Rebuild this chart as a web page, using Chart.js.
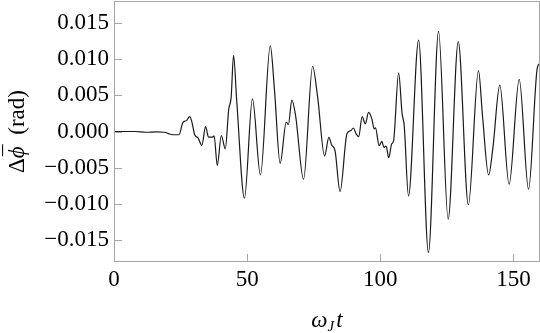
<!DOCTYPE html>
<html lang="en">
<head>
  <meta charset="UTF-8" />
  <title>Phase difference</title>
  <script src="https://cdn.jsdelivr.net/npm/chart.js"></script>
  <style>
    html, body { margin: 0; padding: 0; background: #fff; }
    #wrap { width: 540px; height: 333px; }
  </style>
</head>
<body>
<div id="wrap"><canvas id="phaseChart" width="540" height="333"></canvas></div>
<script>
// omega_J t
const tValues = [
  0, 8, 12, 16, 19, 20.5, 22, 24.4, 25.9, 27.2, 28.4, 29.2, 30.3, 31.5, 33.0, 34.4,
  35.5, 37.0, 37.6, 38.8, 40.3, 41.8, 43.1, 44.0, 44.9, 46.1, 49.0, 52.0, 55.0, 58.7,
  60.3, 62.4, 64.7, 65.5, 66.8, 68.2, 71.2, 74.6, 76.5, 79.1, 80.7, 81.8, 83.0, 84.9,
  87.5, 89.0, 89.9, 90.9, 91.9, 93.2, 94.4, 95.6, 96.9, 97.7, 98.2, 99.6, 100.6, 101.4,
  102.2, 103.2, 104.3, 105.0, 106.9, 108.2, 109.0, 110.6, 114.4, 118.1, 121.9, 125.5,
  129.3, 133.1, 136.9, 138.4, 140.7, 142.3, 144.9, 148.4, 152.2, 155.7, 159.0, 160
];
// delta phi-bar (rad)
const phiValues = [
  0, 0, -0.0001, -0.00005, -0.0001, -0.0003, -0.00045, -0.00045, 0.00125, 0.0015, 0.00205, 0.0014,
  -0.00045, -0.00085, -0.0019, 0.00068, -0.00078, -0.00078, -0.0006, -0.0047, -0.00055, -0.0024,
  0.0031, 0.0047, 0.0105, 0.0042, -0.0092, 0.0045, -0.0060, 0.0118, 0.0056, -0.0044, 0.0013,
  0.00096, 0.00434, 0.0022, -0.0066, 0.0090, 0.0047, -0.0034, -0.0008, -0.0019, -0.0026, -0.0083,
  -0.0003, 0.00014, 0.00048, -0.0003, -0.0007, 0.00205, 0.00105, 0.00264, 0.00167, 0.00037, 0.0005,
  -0.00196, -0.00137, -0.0022, -0.002, -0.0036, -0.0017, -0.0013, 0.0081, 0.0025, 0.0008, -0.0089,
  0.0126, -0.0167, 0.0138, -0.0121, 0.0124, -0.0101, 0.0084, 0.0022, -0.0060, -0.0023, 0.0064,
  -0.0073, 0.0072, -0.0080, 0.0088, 0.0094
];
const xTickValues = [0, 50, 100, 150];
const yTickValues = [-0.015, -0.010, -0.005, 0, 0.005, 0.010, 0.015];

const serif = "'Liberation Serif', 'DejaVu Serif', serif";
const frameColor = '#a6a6a6';

// frame box plus inward ticks on the left and bottom axes
const frameTicks = {
  id: 'frameTicks',
  afterDatasetsDraw(chart) {
    const { ctx, chartArea: a, scales } = chart;
    ctx.save();
    ctx.strokeStyle = frameColor;
    ctx.lineWidth = 1;
    ctx.strokeRect(a.left + 0.5, a.top + 0.5, a.right - a.left - 1, a.bottom - a.top - 1);
    ctx.beginPath();
    yTickValues.forEach(v => {
      const y = Math.round(scales.y.getPixelForValue(v)) + 0.5;
      ctx.moveTo(a.left, y);
      ctx.lineTo(a.left + 8, y);
    });
    xTickValues.forEach(v => {
      const x = Math.round(scales.x.getPixelForValue(v)) + 0.5;
      ctx.moveTo(x, a.bottom);
      ctx.lineTo(x, a.bottom - 8);
    });
    ctx.stroke();
    ctx.restore();
  }
};

// axis titles with italic / subscript pieces
const axisTitles = {
  id: 'axisTitles',
  afterDraw(chart) {
    const { ctx, chartArea: a } = chart;
    ctx.save();
    ctx.fillStyle = '#000';
    ctx.textBaseline = 'alphabetic';

    // x title: ω_J t
    const big = '23px ' + serif, bigI = 'italic 23px ' + serif, small = 'italic 15px ' + serif;
    ctx.font = bigI; const wOm = ctx.measureText('\u03C9').width;
    ctx.font = small; const wJ = ctx.measureText('J').width;
    ctx.font = bigI; const wT = ctx.measureText('t').width;
    let x = (a.left + a.right) / 2 - (wOm + wJ + 2 + wT) / 2;
    const base = 327;
    ctx.font = bigI; ctx.fillText('\u03C9', x, base); x += wOm;
    ctx.font = small; ctx.fillText('J', x, base + 4); x += wJ + 2;
    ctx.font = bigI; ctx.fillText('t', x, base);

    // y title: Δϕ̄ (rad), bar set over the italic phi
    ctx.font = big; const wD = ctx.measureText('\u0394').width;
    ctx.font = bigI; const wP = ctx.measureText('\u03D5').width;
    ctx.font = big; const wR = ctx.measureText('  (rad)').width;
    const wBar = ctx.measureText('\u00AF').width;
    const total = wD + wP + wR;
    ctx.translate(24, (a.top + a.bottom) / 2);
    ctx.rotate(-Math.PI / 2);
    let pos = -total / 2;
    ctx.font = big; ctx.fillText('\u0394', pos, 0); pos += wD;
    ctx.font = bigI; ctx.fillText('\u03D5', pos, 0);
    ctx.font = big; ctx.fillText('\u00AF', pos + wP / 2 - wBar / 2 + 2, -4);
    pos += wP;
    ctx.font = big; ctx.fillText('  (rad)', pos, 0);
    ctx.restore();
  }
};

const fmtY = v => (v < 0 ? '\u2212' : '') + Math.abs(v).toFixed(3);

new Chart(document.getElementById('phaseChart'), {
  type: 'line',
  data: {
    datasets: [{
      data: tValues.map((t, i) => ({ x: t, y: phiValues[i] })),
      borderColor: '#1a1a1a',
      borderWidth: 1.2,
      pointRadius: 0,
      fill: false,
      cubicInterpolationMode: 'monotone'
    }]
  },
  options: {
    responsive: false,
    animation: false,
    devicePixelRatio: 1,
    layout: { padding: { top: 1, right: 0, left: 0, bottom: 0 } },
    plugins: { legend: { display: false }, tooltip: { enabled: false } },
    scales: {
      x: {
        type: 'linear',
        min: 0,
        max: 160,
        grid: { display: false, drawTicks: false },
        border: { display: false },
        afterFit: s => { s.height = 71; s.paddingLeft = 0; s.paddingRight = 0; },
        afterBuildTicks: s => { s.ticks = xTickValues.map(v => ({ value: v })); },
        ticks: { color: '#000', font: { family: serif, size: 23 }, padding: 4, maxRotation: 0, autoSkip: false }
      },
      y: {
        min: -0.018,
        max: 0.018,
        grid: { display: false, drawTicks: false },
        border: { display: false },
        afterFit: s => { s.width = 114; s.paddingTop = 0; s.paddingBottom = 0; },
        afterBuildTicks: s => { s.ticks = yTickValues.map(v => ({ value: v })); },
        ticks: { color: '#000', font: { family: serif, size: 23 }, padding: 5, autoSkip: false, callback: fmtY }
      }
    }
  },
  plugins: [frameTicks, axisTitles]
});
</script>
</body>
</html>
